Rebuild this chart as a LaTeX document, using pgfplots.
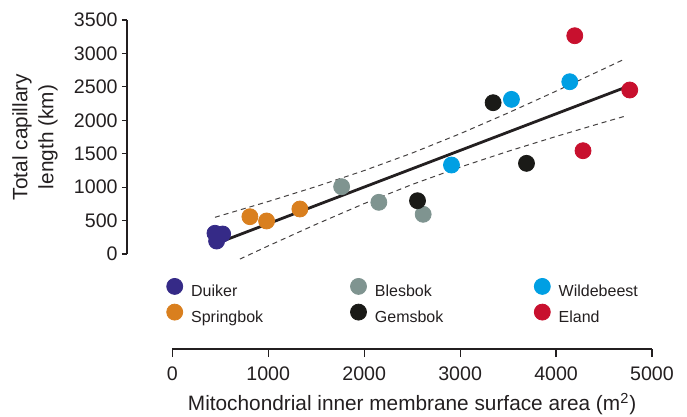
\documentclass[border=0pt]{standalone}
\usepackage{fontspec}
\setmainfont{Liberation Sans}
\usepackage{pgfplots}
\pgfplotsset{compat=1.18}
\definecolor{duiker}{HTML}{352A87}
\definecolor{springbok}{HTML}{D97F1E}
\definecolor{blesbok}{HTML}{7F9490}
\definecolor{gemsbok}{HTML}{1A1A17}
\definecolor{wildebeest}{HTML}{009FE3}
\definecolor{eland}{HTML}{C8102E}
\definecolor{txt}{HTML}{231F20}
\begin{document}
\begin{tikzpicture}
\path[use as bounding box] (0,0) rectangle (343.5pt,-208.5pt);
\begin{axis}[
  scale only axis, width=262.5pt, height=117pt,
  at={(63.5pt,-127pt)}, anchor=south west,
  xmin=-472, xmax=5000, ymin=0, ymax=3500,
  axis y line=left, axis x line=none,
  axis line style={-, line width=0.6pt, color=txt},
  ytick={0,500,...,3500},
  tick align=outside, major tick length=2.5pt,
  tick style={line width=0.6pt, color=txt},
  scaled ticks=false,
  /pgf/number format/assume math mode=true,
  /pgf/number format/1000 sep={},
  yticklabel style={font=\fontsize{9.8}{11}\selectfont, color=txt, inner sep=2pt},
  ylabel={Total capillary\\length (km)},
  ylabel style={at={(axis description cs:-0.1752,0.5)}, anchor=center, rotate=0, align=center, font=\fontsize{10.4}{13}\selectfont, color=txt},
  clip=false,
  legend columns=3,
  legend cell align=left,
  legend image code/.code={\fill[#1] (4pt,3pt) circle (4pt);},
  legend style={draw=none, fill=none, at={(0.0749,-0.1026)}, anchor=north west,
    inner sep=0pt, outer sep=0pt, row sep=2pt,
    font=\fontsize{8}{9.6}\selectfont, text=txt,
    nodes={inner sep=0pt},
    /tikz/every odd column/.append style={column sep=4pt}},
]
\addplot[forget plot, color=txt, line width=1.4pt] coordinates {(450,152) (4760,2513)};
\addplot[forget plot, color=txt!85, line width=0.5pt, dash pattern=on 2.5pt off 2pt] coordinates {
(445,549) (1000,785) (1500,1009) (2000,1248) (2500,1510) (3000,1799) (3500,2110) (4000,2436) (4500,2771) (4710,2913)};
\addplot[forget plot, color=txt!85, line width=0.5pt, dash pattern=on 2.5pt off 2pt] coordinates {
(705,-76) (1000,121) (1500,445) (2000,754) (2500,1040) (3000,1299) (3500,1536) (4000,1758) (4500,1971) (4720,2062)};
\addplot[only marks, mark=*, mark size=4pt, color=duiker, mark options={draw=none}] coordinates {(445,310) (525,299) (462,194)};
\addlegendentry{\makebox[79.5pt][l]{Duiker}}
\addplot[only marks, mark=*, mark size=4pt, color=blesbok, mark options={draw=none}] coordinates {(1765,1007) (2153,773) (2615,594)};
\addlegendentry{\makebox[79.5pt][l]{Blesbok}}
\addplot[only marks, mark=*, mark size=4pt, color=wildebeest, mark options={draw=none}] coordinates {(2910,1331) (3535,2313) (4143,2577)};
\addlegendentry{Wildebeest}
\addplot[only marks, mark=*, mark size=4pt, color=springbok, mark options={draw=none}] coordinates {(809,558) (983,494) (1330,673)};
\addlegendentry{\makebox[79.5pt][l]{Springbok}}
\addplot[only marks, mark=*, mark size=4pt, color=gemsbok, mark options={draw=none}] coordinates {(2556,797) (3344,2263) (3692,1356)};
\addlegendentry{\makebox[79.5pt][l]{Gemsbok}}
\addplot[only marks, mark=*, mark size=4pt, color=eland, mark options={draw=none}] coordinates {(4195,3265) (4768,2453) (4281,1545)};
\addlegendentry{Eland}
\end{axis}
\begin{axis}[
  scale only axis, width=239.85pt, height=20pt,
  at={(86.15pt,-174.5pt)}, anchor=south west,
  xmin=0, xmax=5000, ymin=0, ymax=1,
  axis x line=bottom, axis y line=none,
  axis line style={-, line width=0.6pt, color=txt},
  xtick={0,1000,...,5000},
  tick align=outside, major tick length=4pt,
  tick style={line width=0.6pt, color=txt},
  scaled ticks=false,
  /pgf/number format/assume math mode=true,
  /pgf/number format/1000 sep={},
  xticklabel style={font=\fontsize{9.8}{11}\selectfont, color=txt, yshift=-1.5pt},
  xlabel={Mitochondrial inner membrane surface area (m\textsuperscript{2})},
  xlabel style={at={(axis description cs:0.5,0)}, anchor=base, yshift=-30.85pt, font=\fontsize{10.4}{12}\selectfont, color=txt},
]
\end{axis}
\end{tikzpicture}
\end{document}
